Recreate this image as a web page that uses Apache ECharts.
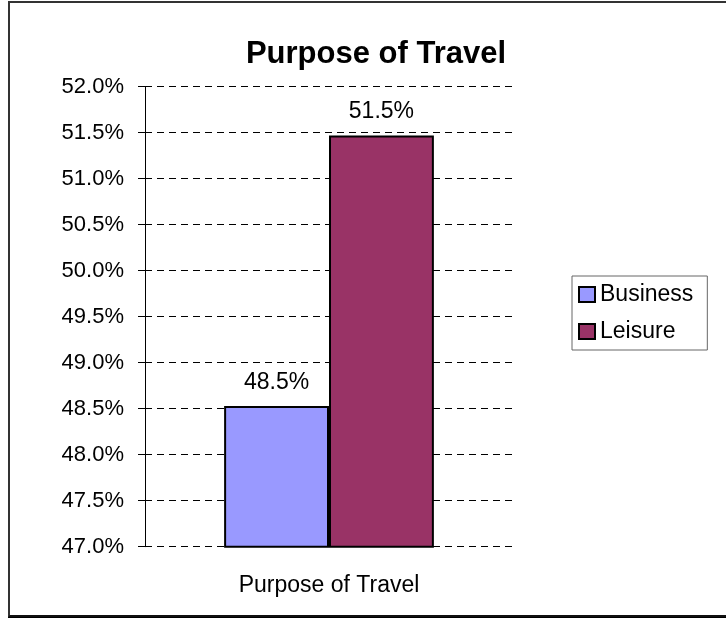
<!DOCTYPE html>
<html>
<head>
<meta charset="utf-8">
<script src="https://cdn.jsdelivr.net/npm/echarts@6/dist/echarts.min.js"></script>
<style>
html,body{margin:0;padding:0;background:#fff;overflow:hidden;}
#frame{position:absolute;left:8px;top:1px;width:740px;height:612px;border:2px solid #333;border-bottom:2px solid #111;box-shadow:0 2px 0 #000;}
#chart{position:absolute;left:0;top:0;width:726px;height:618px;}
</style>
</head>
<body>
<div id="frame"></div>
<div id="chart"></div>
<script>
var categories = ['Purpose of Travel'];
var seriesNames = ['Business', 'Leisure'];
var businessValues = [48.53];
var leisureValues = [51.47];
var yMin = 47, yMax = 52, yInterval = 0.5;
var colors = ['#9999FF', '#993366'];

var font = 'Liberation Sans, Arial, sans-serif';
var chart = echarts.init(document.getElementById('chart'));
function barSeries(name, data, color) {
  return {
    name: name,
    type: 'bar',
    data: data,
    barGap: '0%',
    barCategoryGap: '43%',
    itemStyle: { color: color, borderColor: '#000', borderWidth: 2 },
    label: {
      show: true, position: 'top', distance: 12,
      color: '#000', fontFamily: font, fontSize: 23,
      formatter: function (p) { return p.value.toFixed(1) + '%'; }
    }
  };
}
chart.setOption({
  animation: false,
  backgroundColor: 'transparent',
  title: {
    text: 'Purpose of Travel',
    left: 371, top: 34, textAlign: 'center',
    textStyle: { fontFamily: font, fontSize: 31, fontWeight: 'bold', color: '#000' }
  },
  legend: {
    orient: 'vertical',
    left: 572, top: 276,
    data: seriesNames,
    icon: 'rect',
    itemWidth: 16, itemHeight: 15, itemGap: 14,
    padding: [7, 14, 7, 6],
    borderColor: '#666', borderWidth: 1,
    itemStyle: { borderColor: '#000', borderWidth: 2 },
    textStyle: { fontFamily: font, fontSize: 23, color: '#000' }
  },
  grid: { left: 145, right: 213, top: 86.7, bottom: 71.3, containLabel: false },
  xAxis: {
    type: 'category',
    data: categories,
    axisLine: { show: false },
    axisTick: { show: false },
    axisLabel: { color: '#000', fontFamily: font, fontSize: 23, margin: 27 }
  },
  yAxis: {
    type: 'value',
    min: yMin, max: yMax, interval: yInterval,
    axisLine: { show: true, lineStyle: { color: '#000', width: 1 } },
    axisTick: { show: true, length: 7, lineStyle: { color: '#000' } },
    axisLabel: {
      color: '#000', fontFamily: font, fontSize: 22, margin: 21,
      formatter: function (v) { return v.toFixed(1) + '%'; }
    },
    splitLine: { show: true, lineStyle: { color: '#000', type: [7, 5], width: 1 } }
  },
  series: [
    barSeries(seriesNames[0], businessValues, colors[0]),
    barSeries(seriesNames[1], leisureValues, colors[1])
  ]
});
</script>
</body>
</html>
